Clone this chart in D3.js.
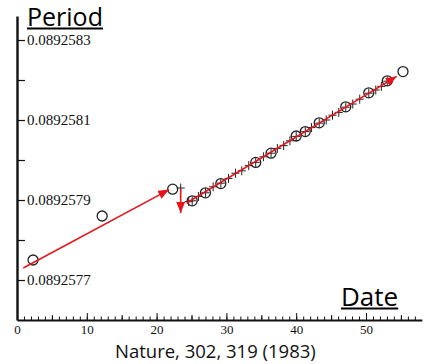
<!DOCTYPE html>
<html>
<head>
<meta charset="utf-8">
<script src="https://cdn.jsdelivr.net/npm/d3@7"></script>
<style>
  html, body { margin: 0; padding: 0; background: #fff; }
  svg { display: block; }
</style>
</head>
<body>
<svg id="chart" width="425" height="364"></svg>
<script>
// Pulsar period vs. date (days)
const circleDays    = [2.3, 12.2, 22.3, 25.1, 27.0, 29.2, 34.2, 36.4, 40.0, 41.3, 43.3, 47.1, 50.4, 53.05, 55.3];
const circlePeriods = [0.08925775, 0.08925786, 0.089257927, 0.089257898, 0.089257918, 0.089257941, 0.089257994,
                       0.089258017, 0.089258060, 0.089258071, 0.089258093, 0.089258133, 0.089258168, 0.089258198, 0.089258221];

// Individual timing measurements drawn as error-bar crosses
const crossDays    = [23.45, 24.6, 25.1, 26.0, 27.0, 28.1, 29.2, 30.3, 31.3, 32.2, 33.2, 34.2, 35.3, 36.4, 37.3,
                      38.2, 39.1, 40.0, 41.3, 42.2, 43.3, 44.3, 45.2, 46.1, 47.1, 48.1, 49.1, 50.4, 51.4, 52.2, 53.05];
const crossPeriods = [0.08925793, 0.089257896, 0.089257898, 0.089257909, 0.089257918, 0.089257933, 0.089257942,
                      0.089257954, 0.089257967, 0.089257973, 0.089257986, 0.089257994, 0.089258008, 0.089258017,
                      0.089258029, 0.089258036, 0.089258048, 0.089258059, 0.089258071, 0.089258081, 0.089258092,
                      0.089258100, 0.089258112, 0.089258119, 0.089258132, 0.089258140, 0.089258152, 0.089258167,
                      0.089258175, 0.089258184, 0.089258197];

// Red trend lines: pre-glitch spin-down, the glitch jump, post-glitch spin-down
const preFitDays     = [0.9, 21.8];
const preFitPeriods  = [0.08925773, 0.089257926];
const glitchDays     = [23.45, 23.45];
const glitchPeriods  = [0.089257928, 0.0892578675];
const postFitDays    = [24.3, 54.4];
const postFitPeriods = [0.0892578925, 0.089258209];

// Axis ticks
const xMajorTicks  = [0, 10, 20, 30, 40, 50];
const yLabelTicks  = [0.0892577, 0.0892579, 0.0892581, 0.0892583];
const yMinorTicks  = [0.0892578, 0.0892580, 0.0892582];
const xDomain = [0, 58];
const yDomain = [0.08925760, 0.08925836];

const svg = d3.select("#chart");
const x = d3.scaleLinear().domain(xDomain).range([17, 17 + 58 * 6.98]);
const y = d3.scaleLinear().domain(yDomain).range([320, 16]);

const RED = "#e8141c";
const serif = "'Liberation Serif', 'Times New Roman', serif";
const sans = "'Open Sans', 'Noto Sans', sans-serif";

// Arrowhead marker
svg.append("defs").append("marker")
  .attr("id", "arrow")
  .attr("markerUnits", "userSpaceOnUse")
  .attr("viewBox", "0 0 10 8")
  .attr("refX", 10).attr("refY", 4)
  .attr("markerWidth", 11).attr("markerHeight", 9)
  .attr("orient", "auto")
  .append("path").attr("d", "M0,0 L10,4 L0,8 Z").attr("fill", RED);

// X axis: ticks point up into the plot, labels below
const xAxisG = svg.append("g").attr("transform", `translate(0,${y(yDomain[0])})`);
xAxisG.call(d3.axisBottom(x).tickValues(d3.range(0, 58, 1)).tickSizeInner(-3.5).tickSizeOuter(0).tickFormat(""));
xAxisG.append("g").call(d3.axisBottom(x).tickValues(d3.range(5, 58, 10)).tickSize(-5).tickFormat(""))
  .select(".domain").remove();
const xMaj = xAxisG.append("g").call(d3.axisBottom(x).tickValues(xMajorTicks).tickSize(-7).tickPadding(5).tickFormat(d3.format("d")));
xMaj.select(".domain").remove();
xAxisG.selectAll(".tick line").attr("stroke", "#111").attr("stroke-width", 1);
xAxisG.select(".domain").attr("stroke", "#111").attr("stroke-width", 2);
xMaj.selectAll("text").attr("font-family", serif).attr("font-size", 13).attr("fill", "#111");

// Y axis: ticks point right, labels to the right of each tick
const yAxisG = svg.append("g").attr("transform", `translate(${x(0)},0)`);
yAxisG.call(d3.axisRight(y).tickValues(yLabelTicks).tickSize(8).tickPadding(2).tickSizeOuter(0).tickFormat(d3.format(".7f")));
yAxisG.append("g").call(d3.axisRight(y).tickValues(yMinorTicks).tickSize(8).tickFormat(""))
  .select(".domain").remove();
yAxisG.select(".domain").attr("stroke", "#111").attr("stroke-width", 2.4);
yAxisG.selectAll(".tick line").attr("stroke", "#111").attr("stroke-width", 1.2);
yAxisG.selectAll("text").attr("font-family", serif).attr("font-size", 15).attr("fill", "#111");

const line = d3.line().x(d => x(d[0])).y(d => y(d[1]));

// Error-bar crosses
const crosses = svg.append("g").attr("stroke", "#222").attr("stroke-width", 1);
crossDays.forEach((d, i) => {
  const cx = x(d), cy = y(crossPeriods[i]);
  crosses.append("line").attr("x1", cx).attr("x2", cx).attr("y1", cy - 4.5).attr("y2", cy + 4.5);
  crosses.append("line").attr("x1", cx - 4).attr("x2", cx + 4).attr("y1", cy).attr("y2", cy);
});

// Open circles
svg.append("g").selectAll("circle")
  .data(circleDays.map((d, i) => [d, circlePeriods[i]]))
  .join("circle")
  .attr("cx", d => x(d[0])).attr("cy", d => y(d[1]))
  .attr("r", 5)
  .attr("fill", "none").attr("stroke", "#222").attr("stroke-width", 1.3);

// Red trend lines with arrowheads
[[preFitDays, preFitPeriods], [glitchDays, glitchPeriods], [postFitDays, postFitPeriods]].forEach(([ds, ps]) => {
  svg.append("path")
    .attr("d", line(ds.map((d, i) => [d, ps[i]])))
    .attr("fill", "none").attr("stroke", RED).attr("stroke-width", 1.6)
    .attr("marker-end", "url(#arrow)");
});

// Axis titles, underlined
function underlinedTitle(text, px, py, size) {
  const t = svg.append("text").attr("x", px).attr("y", py)
    .attr("font-family", sans).attr("font-size", size).attr("fill", "#000").text(text);
  const w = t.node().getComputedTextLength();
  svg.append("line").attr("x1", px).attr("x2", px + w).attr("y1", py + 3).attr("y2", py + 3)
    .attr("stroke", "#000").attr("stroke-width", 1.8);
}
underlinedTitle("Period", 27, 25.5, 25);
underlinedTitle("Date", 341, 305.5, 26);

// Source caption
svg.append("text").attr("x", 115).attr("y", 357.5)
  .attr("font-family", sans).attr("font-size", 18.5).attr("fill", "#111")
  .text("Nature, 302, 319 (1983)");
</script>
</body>
</html>
